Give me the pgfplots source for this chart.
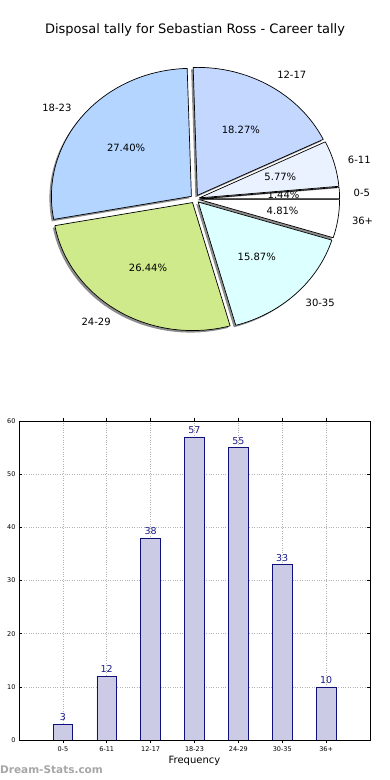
\documentclass[border=0pt]{standalone}
\usepackage{pgfplots}
\pgfplotsset{compat=1.18}
\usepackage{fontspec}
\setmainfont{DejaVu Sans}
\pgfkeys{/pgf/number format/assume math mode=true}
\definecolor{cA}{HTML}{FFFFFF}
\definecolor{cB}{HTML}{EAF1FF}
\definecolor{cC}{HTML}{C4D7FF}
\definecolor{cD}{HTML}{B4D5FF}
\definecolor{cE}{HTML}{CFEA8A}
\definecolor{cF}{HTML}{DCFFFF}
\definecolor{cG}{HTML}{FFFFFF}
\definecolor{barfill}{HTML}{CBCBE5}
\definecolor{baredge}{HTML}{10107A}
\definecolor{lblblue}{HTML}{1A1A8C}
\newcommand\total{208}
% #1 cumulative start value, #2 value, #3 colour, #4 label, #5 label anchor
\newcommand\pieslice[5]{%
  \pgfmathsetmacro\aS{#1/\total*360}%
  \pgfmathsetmacro\aE{(#1+#2)/\total*360}%
  \pgfmathsetmacro\aM{(\aS+\aE)/2}%
  \pgfmathsetmacro\ox{0.033*cos(\aM)}%
  \pgfmathsetmacro\oy{0.033*sin(\aM)}%
  \pgfmathsetmacro\sx{\ox+cos(\aS)}%
  \pgfmathsetmacro\sy{\oy+sin(\aS)}%
  \pgfmathsetmacro\lx{\ox+1.1*cos(\aM)}%
  \pgfmathsetmacro\ly{\oy+1.1*sin(\aM)}%
  \pgfmathsetmacro\qx{\ox+0.6*cos(\aM)}%
  \pgfmathsetmacro\qy{\oy+0.6*sin(\aM)}%
  \pgfmathsetmacro\pct{100*#2/\total}%
  \edef\doit{%
    \noexpand\fill[black, opacity=0.45, xshift=-2pt, yshift=-2pt]
      (axis cs:\ox,\oy) -- (axis cs:\sx,\sy)
      arc[start angle=\aS, end angle=\aE, x radius=140pt, y radius=128pt] -- cycle;
    \noexpand\filldraw[fill=#3, draw=black, line width=0.7pt, line join=round]
      (axis cs:\ox,\oy) -- (axis cs:\sx,\sy)
      arc[start angle=\aS, end angle=\aE, x radius=140pt, y radius=128pt] -- cycle;
    \noexpand\node[anchor=#5, inner sep=0pt, font=\noexpand\fontsize{10}{12}\noexpand\selectfont] at (axis cs:\lx,\ly) {#4};
    \noexpand\node[inner sep=0pt, font=\noexpand\fontsize{10}{12}\noexpand\selectfont] at (axis cs:\qx,\qy)
      {\noexpand\pgfmathprintnumber[fixed, precision=2, fixed zerofill, assume math mode=true]{\pct}\noexpand\%};
  }%
  \doit
}
\begin{document}
\begin{tikzpicture}
\path[use as bounding box] (0,0) rectangle (390pt,780pt);
% ---------- pie ----------
\begin{axis}[
  at={(55pt,453pt)}, anchor=south west,
  scale only axis, width=280pt, height=256pt,
  xmin=-1, xmax=1, ymin=-1, ymax=1,
  hide axis, clip=false]
\addplot[draw=none, forget plot] coordinates {(0,0)};
\pieslice{0}{3}{cA}{0-5}{west}
\pieslice{3}{12}{cB}{6-11}{west}
\pieslice{15}{38}{cC}{12-17}{west}
\pieslice{53}{57}{cD}{18-23}{east}
\pieslice{110}{55}{cE}{24-29}{east}
\pieslice{165}{33}{cF}{30-35}{west}
\pieslice{198}{10}{cG}{36+}{west}
\node[font=\fontsize{13}{15}\selectfont] at (axis cs:0,1.32) {Disposal tally for Sebastian Ross - Career tally};
\end{axis}
% ---------- bars ----------
\begin{axis}[
  at={(19pt,40pt)}, anchor=south west,
  scale only axis, width=351pt, height=319pt,
  xmin=-1, xmax=7, ymin=0, ymax=60,
  xtick={0,1,2,3,4,5,6},
  xticklabels={0-5,6-11,12-17,18-23,24-29,30-35,36+},
  ytick={0,10,20,30,40,50,60},
  /pgf/number format/assume math mode=true,
  tick label style={font=\fontsize{6.5}{7}\selectfont},
  grid=major, grid style={dotted, gray!60, line width=0.6pt},
  tick align=inside, major tick length=3pt,
  tick style={black, line width=0.5pt},
  axis line style={line width=0.9pt},
  xlabel={Frequency},
  xlabel style={font=\fontsize{10}{12}\selectfont, yshift=2pt},
  ybar, bar width=0.45,
  nodes near coords,
  nodes near coords style={font=\fontsize{9.5}{10}\selectfont, text=lblblue, inner sep=3pt},
  ]
\addplot[fill=barfill, draw=baredge, line width=0.6pt] coordinates {
  (0,3) (1,12) (2,38) (3,57) (4,55) (5,33) (6,10)};
\end{axis}
\node[anchor=west, inner sep=0pt, text=gray!70, font=\bfseries\fontsize{10.5}{12}\selectfont] at (0pt,10pt) {Dream-Stats.com};
\end{tikzpicture}
\end{document}
